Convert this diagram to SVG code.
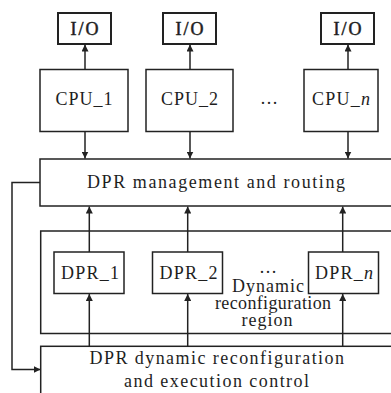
<svg xmlns="http://www.w3.org/2000/svg" width="391" height="393" viewBox="0 0 391 393">
<defs>
<style>
.box{fill:#fff;stroke:#222;stroke-width:1.5}
.io{fill:#fff;stroke:#222;stroke-width:2}
.t{font-family:'Liberation Serif','DejaVu Serif',serif;fill:#1e1e1e;font-size:18px}
.c{text-anchor:middle}
.ln{fill:none;stroke:#222;stroke-width:1.5}
.iot{stroke:#1e1e1e;stroke-width:0.5}
</style>
<marker id="ah" viewBox="0 0 10 10" refX="10" refY="5" markerWidth="7" markerHeight="7" markerUnits="userSpaceOnUse" orient="auto">
<path d="M0,0 L10,5 L0,10 z" fill="#222"/>
</marker>
</defs>
<rect width="391" height="393" fill="#fff"/>
<g font-family="Liberation Serif, DejaVu Serif, serif">
<g id="io1"><rect class="io" x="58" y="13" width="53" height="31"/><text class="t c iot" x="84.5" y="35" textLength="28">I/O</text></g>
<g id="io2"><rect class="io" x="163" y="13" width="53" height="31"/><text class="t c iot" x="189.5" y="35" textLength="28">I/O</text></g>
<g id="ion"><rect class="io" x="321" y="13" width="53" height="31"/><text class="t c iot" x="347.5" y="35" textLength="28">I/O</text></g>
<g id="cpu1"><rect class="box" x="40" y="69.5" width="88" height="62"/><text class="t c" x="84" y="105" font-size="19" textLength="57">CPU_1</text></g>
<g id="cpu2"><rect class="box" x="146" y="69.5" width="87" height="62"/><text class="t c" x="189.5" y="105" font-size="19" textLength="57">CPU_2</text></g>
<g id="dots1"><text class="t c" x="269" y="104">…</text></g>
<g id="cpun"><rect class="box" x="304" y="69.5" width="74" height="62"/><text class="t c" x="341" y="105" font-size="19" textLength="58">CPU_<tspan font-style="italic">n</tspan></text></g>
<g id="mgmt"><rect class="box" x="40" y="159" width="360" height="47"/><text class="t" x="87" y="188" textLength="258">DPR management and routing</text></g>
<g id="region"><rect class="box" x="40.7" y="231" width="360" height="102.5"/>
<text class="t c" y="273" font-size="17"><tspan x="268">…</tspan><tspan x="268" y="291.5" textLength="72">Dynamic</tspan><tspan x="273" y="308.5" textLength="116">reconfiguration</tspan><tspan x="267" y="325.5" textLength="51">region</tspan></text></g>
<g id="dpr1"><rect class="box" x="54" y="252" width="70" height="41.5"/><text class="t c" x="90" y="279" textLength="58">DPR_1</text></g>
<g id="dpr2"><rect class="box" x="152.5" y="252" width="70" height="41.5"/><text class="t c" x="188.5" y="279" textLength="58">DPR_2</text></g>
<g id="dprn"><rect class="box" x="308.5" y="252" width="70" height="41.5"/><text class="t c" x="344" y="279" textLength="58">DPR_<tspan font-style="italic">n</tspan></text></g>
<g id="ctrl"><rect class="box" x="40.7" y="346.3" width="360" height="60"/>
<text class="t" x="89.5" y="363.5" textLength="254.5">DPR dynamic reconfiguration</text>
<text class="t" x="124" y="386.5" textLength="185">and execution control</text></g>
</g>
<g id="connectors">
<line class="ln" x1="85" y1="69.5" x2="85" y2="44.5" marker-end="url(#ah)"/>
<line class="ln" x1="190" y1="69.5" x2="190" y2="44.5" marker-end="url(#ah)"/>
<line class="ln" x1="348" y1="69.5" x2="348" y2="44.5" marker-end="url(#ah)"/>
<line class="ln" x1="85" y1="131.5" x2="85" y2="158.5" marker-end="url(#ah)"/>
<line class="ln" x1="190" y1="131.5" x2="190" y2="158.5" marker-end="url(#ah)"/>
<line class="ln" x1="348" y1="131.5" x2="348" y2="158.5" marker-end="url(#ah)"/>
<line class="ln" x1="89.3" y1="252" x2="89.3" y2="206.5" marker-end="url(#ah)"/>
<line class="ln" x1="187.7" y1="252" x2="187.7" y2="206.5" marker-end="url(#ah)"/>
<line class="ln" x1="342.7" y1="252" x2="342.7" y2="206.5" marker-end="url(#ah)"/>
<line class="ln" x1="89.3" y1="346.3" x2="89.3" y2="294" marker-end="url(#ah)"/>
<line class="ln" x1="187.7" y1="346.3" x2="187.7" y2="294" marker-end="url(#ah)"/>
<line class="ln" x1="342.7" y1="346.3" x2="342.7" y2="294" marker-end="url(#ah)"/>
<polyline class="ln" points="40,182.5 12,182.5 12,369.5 40.5,369.5" marker-end="url(#ah)"/>
</g>
</svg>
